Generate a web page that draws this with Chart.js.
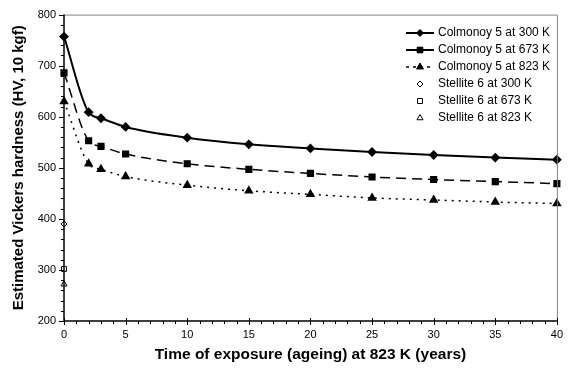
<!DOCTYPE html>
<html>
<head>
<meta charset="utf-8">
<script src="https://cdn.jsdelivr.net/npm/chart.js@4/dist/chart.umd.min.js"></script>
<style>
  body { margin: 0; background: #fff; }
  canvas { display: block; }
</style>
</head>
<body>
<canvas id="myChart" width="570" height="368"></canvas>
<script>
// ageing time (years)
var years = [0, 2, 3, 5, 10, 15, 20, 25, 30, 35, 40];
// Colmonoy 5 hardness at each temperature
var colmonoy300 = [757, 609, 597, 580, 559, 546, 538, 531, 525, 520, 516];
var colmonoy673 = [686, 553, 542, 527, 508, 497, 489, 482, 477, 473, 469];
var colmonoy823 = [630, 508, 497, 483, 466, 455, 448, 441, 437, 433, 430];
// Stellite 6 (only at t = 0)
var stelliteYears = [0];
var stellite300 = [390];
var stellite673 = [302];
var stellite823 = [272];

var yTicks = [200, 300, 400, 500, 600, 700, 800];
var xTicks = [0, 5, 10, 15, 20, 25, 30, 35, 40];

function pts(xs, ys) {
  return xs.map(function(x, i) { return { x: x, y: ys[i] }; });
}

var legendItems = [
  { label: 'Colmonoy 5 at 300 K', line: true, dash: [], style: 'rectRot', r: 3.5, fill: '#000' },
  { label: 'Colmonoy 5 at 673 K', line: true, dash: [], style: 'rect', r: 4, fill: '#000' },
  { label: 'Colmonoy 5 at 823 K', line: true, dash: [3, 4], style: 'triangle', r: 4, fill: '#000' },
  { label: 'Stellite 6 at 300 K', line: false, style: 'rectRot', r: 3, fill: '#fff' },
  { label: 'Stellite 6 at 673 K', line: false, style: 'rect', r: 3.5, fill: '#fff' },
  { label: 'Stellite 6 at 823 K', line: false, style: 'triangle', r: 3.5, fill: '#fff' }
];

// minor ticks, frame and legend
var extras = {
  id: 'extras',
  afterDraw: function(chart) {
    var c = chart.ctx, xs = chart.scales.x, ys = chart.scales.y, a = chart.chartArea;
    c.save();
    // top & right frame
    c.strokeStyle = '#808080';
    c.lineWidth = 1;
    c.beginPath();
    c.moveTo(a.left, a.top + 0.5); c.lineTo(a.right + 0.5, a.top + 0.5); c.lineTo(a.right + 0.5, a.bottom);
    c.stroke();
    c.strokeStyle = '#000';
    c.beginPath();
    for (var v = 200; v <= 800; v += 20) {
      var py = Math.round(ys.getPixelForValue(v)) + 0.5;
      var len = (v % 100 === 0) ? 5 : 3;
      c.moveTo(a.left - len, py); c.lineTo(a.left, py);
    }
    for (var t = 0; t <= 40; t += 1) {
      var px = Math.round(xs.getPixelForValue(t)) + 0.5;
      if (t % 5 === 0) { c.moveTo(px, a.bottom - 3); c.lineTo(px, a.bottom + 4); }
      else { c.moveTo(px, a.bottom); c.lineTo(px, a.bottom + 3); }
    }
    c.stroke();
    // axes
    c.lineWidth = 1.5;
    c.beginPath();
    c.moveTo(a.left, a.top); c.lineTo(a.left, a.bottom); c.lineTo(a.right, a.bottom);
    c.stroke();

    // legend
    c.font = '12px Arial, "Liberation Sans", sans-serif';
    c.textBaseline = 'middle';
    c.fillStyle = '#000';
    legendItems.forEach(function(it, i) {
      var y = 33 + i * 17;
      if (it.line) {
        c.setLineDash(it.dash);
        c.lineWidth = it.dash.length ? 1.5 : 2;
        c.beginPath(); c.moveTo(406, y); c.lineTo(434, y); c.stroke();
        c.setLineDash([]);
      }
      c.lineWidth = 1;
      c.fillStyle = it.fill;
      c.strokeStyle = '#000';
      Chart.helpers.drawPoint(c, { pointStyle: it.style, radius: it.r, borderWidth: 1 }, 420, y);
      c.fillStyle = '#000';
      c.fillText(it.label, 438, y);
    });
    c.restore();
  }
};

Chart.defaults.font.family = 'Arial, "Liberation Sans", sans-serif';
Chart.defaults.color = '#000';

new Chart(document.getElementById('myChart'), {
  type: 'line',
  data: {
    datasets: [
      { label: 'Colmonoy 5 at 300 K', data: pts(years, colmonoy300), borderColor: '#000', backgroundColor: '#000',
        borderWidth: 2, pointStyle: 'rectRot', pointRadius: 3.5, cubicInterpolationMode: 'monotone' },
      { label: 'Colmonoy 5 at 673 K', data: pts(years, colmonoy673), borderColor: '#000', backgroundColor: '#000',
        borderWidth: 1.5, borderDash: [10, 6], pointStyle: 'rect', pointRadius: 4, cubicInterpolationMode: 'monotone' },
      { label: 'Colmonoy 5 at 823 K', data: pts(years, colmonoy823), borderColor: '#000', backgroundColor: '#000',
        borderWidth: 1.5, borderDash: [2, 5], pointStyle: 'triangle', pointRadius: 4, cubicInterpolationMode: 'monotone' },
      { label: 'Stellite 6 at 300 K', data: pts(stelliteYears, stellite300), showLine: false, borderColor: '#000',
        backgroundColor: '#fff', borderWidth: 1, pointStyle: 'rectRot', pointRadius: 3 },
      { label: 'Stellite 6 at 673 K', data: pts(stelliteYears, stellite673), showLine: false, borderColor: '#000',
        backgroundColor: '#fff', borderWidth: 1, pointStyle: 'rect', pointRadius: 3.5 },
      { label: 'Stellite 6 at 823 K', data: pts(stelliteYears, stellite823), showLine: false, borderColor: '#000',
        backgroundColor: '#fff', borderWidth: 1, pointStyle: 'triangle', pointRadius: 3.5 }
    ]
  },
  options: {
    responsive: false,
    animation: false,
    clip: false,
    layout: { padding: { top: 13, right: 6, left: 0, bottom: 0 } },
    plugins: { legend: { display: false }, tooltip: { enabled: false } },
    scales: {
      x: {
        type: 'linear', min: 0, max: 40,
        afterBuildTicks: function(s) { s.ticks = xTicks.map(function(v) { return { value: v }; }); },
        grid: { display: false, drawTicks: false },
        border: { display: false },
        ticks: { font: { size: 11 }, padding: 7, maxRotation: 0 },
        title: { display: true, text: 'Time of exposure (ageing) at 823 K (years)',
                 font: { size: 15.5, weight: 'bold' }, padding: { top: 0, bottom: 4 } },
        afterFit: function(s) { s.height = 47; }
      },
      y: {
        min: 200, max: 800,
        afterBuildTicks: function(s) { s.ticks = yTicks.map(function(v) { return { value: v }; }); },
        grid: { display: false, drawTicks: false },
        border: { display: false },
        ticks: { font: { size: 11 }, padding: 8 },
        title: { display: true, text: 'Estimated Vickers hardness (HV, 10 kgf)',
                 font: { size: 15, weight: 'bold' }, padding: { top: 10, bottom: 0 } },
        afterFit: function(s) { s.width = 64; }
      }
    }
  },
  plugins: [extras]
});
</script>
</body>
</html>
